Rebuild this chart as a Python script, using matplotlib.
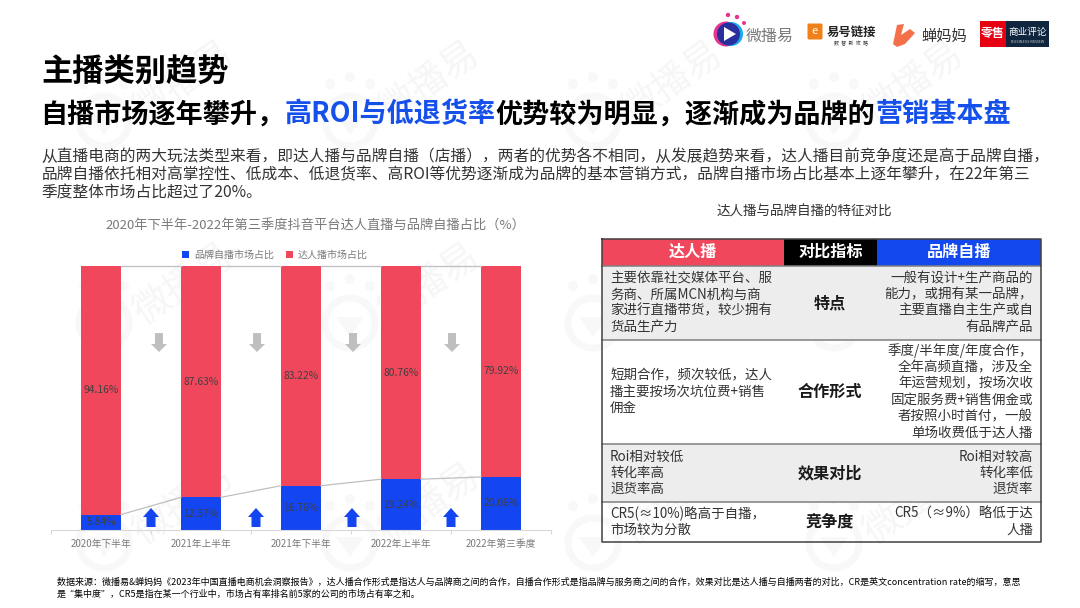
import matplotlib
matplotlib.use("Agg")
import matplotlib.pyplot as plt
from matplotlib.patches import Rectangle, Circle, Polygon, FancyBboxPatch

plt.rcParams['font.family'] = ['Noto Sans CJK SC', 'DejaVu Sans']

W, H = 1080, 608
RED, BLUE, TBLUE, HL = "#F0475C", "#1345F0", "#1248EE", "#1650EA"
DARK, GREY = "#333333", "#7A7A7A"

# ---- chart data ----
periods = ["2020年下半年", "2021年上半年", "2021年下半年", "2022年上半年", "2022年第三季度"]
brand_share = [5.84, 12.37, 16.78, 19.24, 20.08]
talent_share = [94.16, 87.63, 83.22, 80.76, 79.92]

title_runs = [("自播市场逐年攀升，", "black"), ("高ROI与低退货率", HL),
              ("优势较为明显，逐渐成为品牌的", "black"), ("营销基本盘", HL)]
intro = ["从直播电商的两大玩法类型来看，即达人播与品牌自播（店播），两者的优势各不相同，从发展趋势来看，达人播目前竞争度还是高于品牌自播，",
         "品牌自播依托相对高掌控性、低成本、低退货率、高ROI等优势逐渐成为品牌的基本营销方式，品牌自播市场占比基本上逐年攀升，在22年第三",
         "季度整体市场占比超过了20%。"]
notes = ["数据来源：微播易&蝉妈妈《2023年中国直播电商机会洞察报告》，达人播合作形式是指达人与品牌商之间的合作，自播合作形式是指品牌与服务商之间的合作，效果对比是达人播与自播两者的对比，CR是英文concentration rate的缩写，意思",
         "是“集中度”，CR5是指在某一个行业中，市场占有率排名前5家的公司的市场占有率之和。"]

# ---- table ----
heads = ["达人播", "对比指标", "品牌自播"]
metrics = ["特点", "合作形式", "效果对比", "竞争度"]
talent_txt = [["主要依靠社交媒体平台、服", "务商、所属MCN机构与商", "家进行直播带货，较少拥有", "货品生产力"],
              ["短期合作，频次较低，达人", "播主要按场次坑位费+销售", "佣金"],
              ["Roi相对较低", "转化率高", "退货率高"],
              ["CR5(≈10%)略高于自播，", "市场较为分散"]]
brand_txt = [["一般有设计+生产商品的", "能力，或拥有某一品牌，", "主要直播自主生产或自", "有品牌产品"],
             ["季度/半年度/年度合作，", "全年高频直播，涉及全", "年运营规划，按场次收", "固定服务费+销售佣金或", "者按照小时首付，一般", "单场收费低于达人播"],
             ["Roi相对较高", "转化率低", "退货率"],
             ["CR5（≈9%）略低于达", "人播"]]
row_edges = [266, 339.5, 444, 502, 542]
col_edges = [602, 784, 877, 1041]

fig = plt.figure(figsize=(W / 100, H / 100), dpi=100, facecolor="white")


def px_axes(z):
    a = fig.add_axes([0, 0, 1, 1], zorder=z)
    a.set_xlim(0, W)
    a.set_ylim(H, 0)
    a.axis("off")
    return a


bg = px_axes(0)
fg = px_axes(2)


# watermark tiles
def watermark(x, y):
    c = "#F8F8F8"
    bg.add_patch(Circle((x, y), 25, fc="none", ec=c, lw=5))
    bg.add_patch(Polygon([(x - 14, y - 6), (x + 14, y - 6), (x, y + 14)], fc=c, ec="none"))
    for dx, dy in [(-20, -37), (0, -44), (20, -37)]:
        bg.add_patch(Circle((x + dx, y + dy), 5, fc=c, ec="none"))
    bg.text(x + 80, y - 38, "微播易", color="#F6F6F6", fontsize=27, rotation=35,
            ha="center", va="center")


for wy in (121, 323, 543):
    for wx in (104, 350, 593, 834):
        watermark(wx, wy)

# ---- headings ----
bg.text(41, 72.5, "主播类别趋势", fontsize=22.5, fontweight="bold", color="black", va="center")
r = fig.canvas.get_renderer()
tx = 40.5
for s, c in title_runs:
    t = bg.text(tx, 114.5, s, fontsize=19.5, fontweight="bold", color=c, va="center")
    tx = bg.transData.inverted().transform(t.get_window_extent(r))[1][0]

for i, line in enumerate(intro):
    bg.text(41.5, 156 + i * 18.7, line, fontsize=11.3, color=DARK, va="center")
for i, line in enumerate(notes):
    bg.text(57, 582 + i * 12, line, fontsize=6.5, color="black", va="center")

# ---- stacked bars ----
ax = fig.add_axes([51 / W, 1 - 530 / H, 500 / W, 264 / H], zorder=1)
ax.patch.set_alpha(0)
x = list(range(len(periods)))
b1 = ax.bar(x, brand_share, 0.4, color=BLUE, label="品牌自播市场占比")
b2 = ax.bar(x, talent_share, 0.4, bottom=brand_share, color=RED, label="达人播市场占比")
ax.bar_label(b1, fmt="%.2f%%", label_type="center", fontsize=7.4, color="#404040")
ax.bar_label(b2, fmt="%.2f%%", label_type="center", fontsize=7.4, color="#404040")
for i in x[:-1]:
    ax.plot([i + .2, i + .8], [brand_share[i], brand_share[i + 1]], color="#BFBFBF", lw=.9)
    ax.plot([i + .2, i + .8], [100, 100], color="#BFBFBF", lw=.9, clip_on=False)
ax.set_xlim(-.5, 4.5)
ax.set_ylim(0, 100)
ax.set_yticks([])
ax.set_xticks(x, periods, fontsize=7, color=GREY)
ax.tick_params(axis="x", length=0, pad=6.5)
ax.set_xticks([i - .5 for i in x] + [4.5], minor=True)
ax.tick_params(axis="x", which="minor", length=3, color="#D9D9D9", width=.8)
for s in ("top", "right", "left"):
    ax.spines[s].set_visible(False)
ax.spines["bottom"].set_color("#D9D9D9")
ax.legend(loc="lower center", bbox_to_anchor=(0.448, 1.014), ncol=2, frameon=False, fontsize=7.2,
          labelcolor=GREY, handlelength=.7, handleheight=.7, handletextpad=.5, columnspacing=1.2,
          borderpad=0, borderaxespad=0.2)
bg.text(315, 226, "2020年下半年-2022年第三季度抖音平台达人直播与品牌自播占比（%）",
        fontsize=9.5, color=GREY, ha="center", va="center")

# direction arrows between bars
for ax_x in (159, 257, 353, 452):
    fg.add_patch(Polygon([(ax_x - 4, 333), (ax_x + 4, 333), (ax_x + 4, 344), (ax_x + 8, 344),
                          (ax_x, 352), (ax_x - 8, 344), (ax_x - 4, 344)], fc="#BFBFBF", ec="none"))
for ax_x in (151, 256, 352, 451):
    fg.add_patch(Polygon([(ax_x - 4.5, 527), (ax_x + 4.5, 527), (ax_x + 4.5, 517), (ax_x + 8, 517),
                          (ax_x, 508), (ax_x - 8, 517), (ax_x - 4.5, 517)], fc=BLUE, ec="none"))

# ---- comparison table ----
bg.text(804, 212, "达人播与品牌自播的特征对比", fontsize=9.75, color=DARK, ha="center", va="center")
head_cols = [RED, "black", TBLUE]
for j in range(3):
    fg.add_patch(Rectangle((col_edges[j], 239), col_edges[j + 1] - col_edges[j], 27, fc=head_cols[j], ec="none"))
    fg.text((col_edges[j] + col_edges[j + 1]) / 2, 252, heads[j], color="white", fontsize=11.6,
            fontweight="bold", ha="center", va="center")
for k, m in enumerate(metrics):
    y0, y1 = row_edges[k], row_edges[k + 1]
    ym = (y0 + y1) / 2
    if k % 2 == 0:
        fg.add_patch(Rectangle((602, y0), 439, y1 - y0, fc="#EDEDED", ec="none"))
    fg.text(830, ym + .5, m, fontsize=11.6, fontweight="bold", color="#1A1A1A", ha="center", va="center")
    n = len(talent_txt[k])
    for q, line in enumerate(talent_txt[k]):
        fg.text(610, ym + (q - (n - 1) / 2) * 16.3, line, fontsize=9.7, color=DARK, va="center")
    n = len(brand_txt[k])
    for q, line in enumerate(brand_txt[k]):
        fg.text(1033, ym + (q - (n - 1) / 2) * 16.3, line, fontsize=9.7, color=DARK, ha="right", va="center")
for e in row_edges[:-1]:
    fg.plot([602, 1041], [e, e], color="#7F7F7F", lw=1.1)
fg.plot([602, 1041, 1041, 602, 602], [239, 239, 542, 542, 239], color="#404040", lw=1.1)

# ---- logos ----
fg.add_patch(Circle((726, 34), 12.5, fc="#E6348F", ec="none"))
fg.add_patch(Circle((731, 34), 12, fc="#19A8F0", ec="none"))
fg.add_patch(Circle((728.5, 34), 11.5, fc="#2A2F9E", ec="none"))
fg.add_patch(Polygon([(724, 27), (736, 34), (724, 41)], fc="white", ec="none"))
for dx, dy, rad in [(728, 15, 2.2), (737, 17, 2.2), (744, 23, 2)]:
    fg.add_patch(Circle((dx, dy), rad, fc="#E6348F", ec="none"))
fg.text(746, 36, "微播易", fontsize=11.5, color="#7A7A7A", va="center")
fg.add_patch(FancyBboxPatch((809, 25), 12, 13, boxstyle="round,pad=1.5", fc="#F08018", ec="none"))
fg.text(815, 31.5, "e", fontsize=8, color="white", ha="center", va="center")
fg.text(827, 32, "易号链接", fontsize=8.9, fontweight="bold", color="#222222", va="center")
fg.text(851, 44, "数  智  新  攻  略", fontsize=3.6, color="#333333", ha="center", va="center")
fg.add_patch(Polygon([(893, 44), (897, 25), (904, 24), (901, 35), (910, 29), (915, 33), (905, 44), (897, 47)],
                     fc="#F4704A", ec="none"))
fg.text(921, 36, "蝉妈妈", fontsize=11, color="#333333", va="center")
fg.add_patch(Rectangle((980, 21), 26, 26, fc="#E60012", ec="none"))
fg.add_patch(Rectangle((1006, 21), 43, 26, fc="#10263F", ec="none"))
fg.text(993, 33, "零售", fontsize=8.6, fontweight="bold", color="white", ha="center", va="center")
fg.text(1027.5, 32, "商业评论", fontsize=6.9, color="white", ha="center", va="center")
fg.text(1027.5, 42, "BUSINESS REVIEW", fontsize=2.8, color="#C8C8C8", ha="center", va="center")

fig.savefig("out.png", dpi=100)
